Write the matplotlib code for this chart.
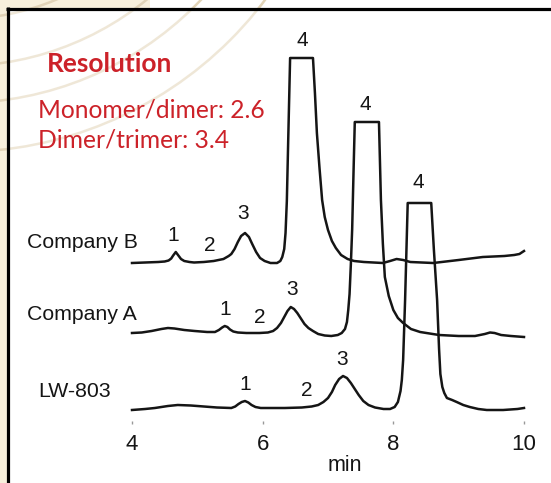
import matplotlib
matplotlib.use("Agg")
import matplotlib.pyplot as plt
from matplotlib.patches import Rectangle, Circle

# retention time (min) and detector response (arbitrary units above each baseline)
time_b = [4.00, 4.20, 4.40, 4.50, 4.56, 4.60, 4.63, 4.67, 4.71, 4.75, 4.80, 4.88, 4.95,
          5.10, 5.25, 5.40, 5.48, 5.52, 5.57, 5.62, 5.67, 5.73, 5.79, 5.84, 5.90, 5.96,
          6.03, 6.12, 6.22, 6.27, 6.30, 6.33, 6.35, 6.37, 6.39, 6.42, 6.77, 6.80, 6.83,
          6.87, 6.91, 6.95, 7.00, 7.06, 7.12, 7.20, 7.30, 7.40, 7.55, 7.84, 7.95, 8.05,
          8.15, 8.26, 8.61, 9.00, 9.37, 9.70, 9.85, 9.93, 10.00]
resp_b = [0, 0.5, 1, 1.5, 2.5, 4.5, 7.5, 11, 7.5, 4, 2, 1, 0.5,
          1, 2, 4, 7, 9, 14, 21, 27, 30, 26, 19, 11, 5,
          2, 0, 0, 2, 6, 14, 30, 62, 120, 205, 205, 170, 130,
          95, 63, 46, 33, 22, 15, 8, 4, 2, 1, 0, 2, 4,
          3, 1, 0, 3, 6, 7, 8, 9, 12]

time_a = [4.00, 4.15, 4.30, 4.45, 4.55, 4.65, 4.80, 4.96, 5.15, 5.27, 5.33, 5.38, 5.42,
          5.46, 5.50, 5.55, 5.62, 5.75, 5.95, 6.08, 6.16, 6.22, 6.28, 6.33, 6.38, 6.43,
          6.48, 6.53, 6.58, 6.64, 6.70, 6.77, 6.85, 6.95, 7.05, 7.15, 7.21, 7.26, 7.29,
          7.31, 7.33, 7.35, 7.37, 7.39, 7.41, 7.78, 7.81, 7.84, 7.87, 7.93, 8.00, 8.07,
          8.15, 8.27, 8.41, 8.70, 9.00, 9.25, 9.40, 9.48, 9.55, 9.65, 9.80, 10.00]
resp_a = [1, 1.5, 3, 5, 6, 5.5, 4, 3, 2, 2, 4, 6.5, 8,
          7, 4.5, 2.5, 1.5, 1, 1, 1.5, 3, 6, 11, 17, 23, 27,
          25, 21, 16, 10, 6, 3, 0, -1.5, -2, -1, 1, 5, 12,
          24, 40, 70, 105, 160, 212, 212, 134, 90, 57, 38, 24, 16,
          11, 5, 2, -1, -2, -2, 0, 1.5, 1, -1, -2, -3]

time_lw = [4.00, 4.20, 4.35, 4.55, 4.70, 4.90, 5.10, 5.30, 5.52, 5.58, 5.63, 5.68, 5.73,
           5.78, 5.83, 5.89, 5.97, 6.34, 6.60, 6.75, 6.85, 6.93, 7.00, 7.06, 7.11, 7.17,
           7.23, 7.29, 7.35, 7.41, 7.47, 7.54, 7.62, 7.72, 7.85, 7.95, 8.02, 8.07, 8.11,
           8.13, 8.15, 8.18, 8.22, 8.58, 8.62, 8.67, 8.70, 8.72, 8.75, 8.78, 8.82, 8.90,
           8.97, 9.07, 9.17, 9.30, 9.43, 9.68, 9.90, 10.00]
resp_lw = [-1, 0, 1, 3, 4, 3.5, 2.5, 1.5, 1, 2.5, 5, 7, 8,
           6.5, 4, 2, 1, 1, 1.5, 2.5, 4, 7, 11, 17, 24, 30,
           33, 31, 26, 20, 14, 8, 4, 1.5, 0, 0, 2, 7, 18,
           29, 49, 109, 206, 206, 160, 109, 60, 35, 22, 16, 11, 9,
           7, 4, 2, 0, -1, -1, 0, 1]

trace_names = ["Company B", "Company A", "LW-803"]
trace_offsets = [161, 90, 15]

# peak number labels: (text, time, height on chart)
peak_labels_b = [("1", 4.63, 183), ("2", 5.19, 173), ("3", 5.70, 205), ("4", 6.60, 378)]
peak_labels_a = [("1", 5.42, 109), ("2", 5.96, 101), ("3", 6.45, 129), ("4", 7.57, 314)]
peak_labels_lw = [("1", 5.73, 34), ("2", 6.68, 28), ("3", 7.21, 59), ("4", 8.38, 236)]

x_ticks = [4, 6, 8, 10]

resolution_title = "Resolution"
resolution_lines = ["Monomer/dimer: 2.6", "Dimer/trimer: 3.4"]

RED = "#cc2229"
INK = "#151515"

fig = plt.figure(figsize=(5.51, 4.83), dpi=100)
fig.patch.set_facecolor("white")

# background layer in pixel coordinates
bg = fig.add_axes([0, 0, 1, 1], zorder=0)
bg.set_xlim(0, 551)
bg.set_ylim(483, 0)
bg.axis("off")
bg.add_patch(Rectangle((0, 0), 7, 483, color="#f8f0dc", lw=0))
bg.add_patch(Rectangle((0, 0), 150, 8, color="#f8f0dc", lw=0))
for r in [249, 296, 333, 382]:
    bg.add_patch(Circle((-40, -230), r, fill=False, ec="#e2d4b8", lw=1.8))
bg.add_patch(Rectangle((9, 10), 551, 483, color="white", alpha=0.45, lw=0))
bg.plot([7.5, 7.5], [7, 483], color="black", lw=2.3, solid_capstyle="butt")
bg.plot([6, 551], [8.7, 8.7], color="black", lw=2.3, solid_capstyle="butt")

bg.text(47, 72, resolution_title, color=RED, fontsize=19, fontweight="bold",
        family="Lato", va="baseline", ha="left")
for i, line in enumerate(resolution_lines):
    bg.text(38, 117 + i * 31, line, color=RED, fontsize=17.7, family="Lato",
            va="baseline", ha="left")

label_base = [248, 320, 397]
label_left = [27, 27, 38]
for name, x, y in zip(trace_names, label_left, label_base):
    bg.text(x, y, name, fontsize=15.3, family="Liberation Sans", color=INK,
            va="baseline", ha="left")
bg.text(345, 471, "min", fontsize=15.5, family="Liberation Sans", color=INK,
        va="baseline", ha="center")

# chromatogram axes
ax = fig.add_axes([132 / 551, 59 / 483, 392 / 551, 404 / 483], zorder=1)
ax.patch.set_alpha(0)
ax.set_xlim(4, 10)
ax.set_ylim(0, 404)

traces = [(time_b, resp_b), (time_a, resp_a), (time_lw, resp_lw)]
for (t, r), off in zip(traces, trace_offsets):
    ax.plot(t, [v + off for v in r], color=INK, lw=1.8, solid_joinstyle="round",
            clip_on=False)

for labels in [peak_labels_b, peak_labels_a, peak_labels_lw]:
    for txt, t, h in labels:
        ax.text(t, h, txt, fontsize=15, family="Liberation Sans", color=INK,
                ha="center", va="baseline")

for s in ax.spines.values():
    s.set_visible(False)
ax.set_yticks([])
ax.set_xticks(x_ticks)
ax.set_xticklabels([str(v) for v in x_ticks], family="Liberation Sans", fontsize=16,
                   color=INK)
ax.tick_params(axis="x", direction="in", length=2, width=1, color="#999999", pad=7)

fig.savefig("out.png", dpi=100)
